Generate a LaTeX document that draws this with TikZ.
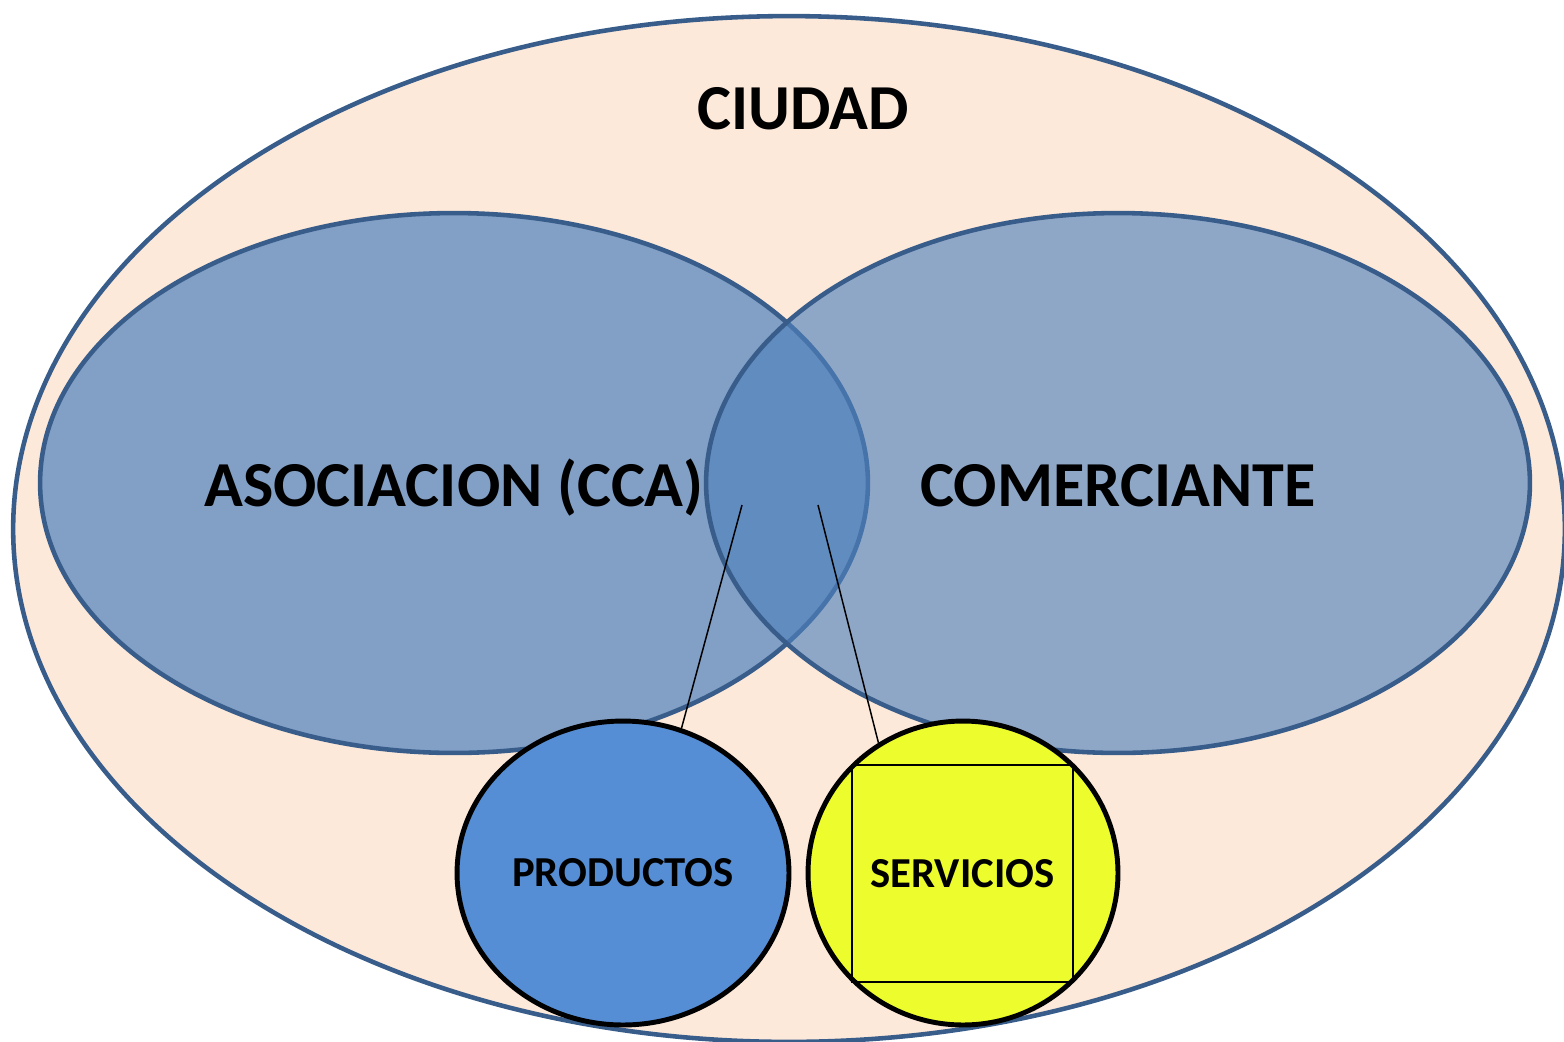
\documentclass[tikz,border=0pt]{standalone}
\usepackage{fontspec}
\setmainfont{Carlito}
\usetikzlibrary{shapes.geometric}

\definecolor{cityfill}{HTML}{FDE9D9}
\definecolor{cityline}{HTML}{385D8A}
\definecolor{setblue}{HTML}{4F81BD}
\definecolor{prodblue}{HTML}{558ED5}
\definecolor{servyellow}{HTML}{ECFC2C}

\begin{document}
\begin{tikzpicture}[
  x=0.02cm, y=-0.02cm,
  bigtext/.style={font=\bfseries\fontsize{36.5}{42}\selectfont,
    text height=27pt, text depth=0pt},
  smalltext/.style={font=\bfseries\fontsize{24.3}{29}\selectfont,
    text height=15.6pt, text depth=0pt},
  setshape/.style={ellipse, draw=cityline, line width=2.6pt, inner sep=0pt,
    fill=setblue, text opacity=1, minimum height=10.8cm, bigtext},
  kindshape/.style={ellipse, draw=black, line width=2.8pt, inner sep=0pt,
    minimum height=6.08cm, smalltext},
  link/.style={line width=0.85pt},
]
\useasboundingbox (0,0) rectangle (1564,1041);
\clip (0,0) rectangle (1564,1041);

% city
\node[ellipse, draw=cityline, line width=2.6pt, fill=cityfill, inner sep=0pt,
  minimum width=31.04cm, minimum height=20.52cm] (ciudad) at (789,529) {};
\node[bigtext] (ciudadtxt) at (803,106) {CIUDAD};

% the two sets
\node[setshape, fill opacity=0.7, minimum width=16.56cm] (asoc) at (454,483)
  {ASOCIACION (CCA)};
\node[setshape, fill opacity=0.63, minimum width=16.48cm] (comer) at (1118,483)
  {COMERCIANTE};

% products and services
\node[kindshape, fill=prodblue, minimum width=6.64cm] (prod) at (623,873)
  {PRODUCTOS};
\node[kindshape, fill=servyellow, minimum width=6.2cm] (serv) at (963,873) {};
\node[rectangle, draw=black, line width=1.1pt, inner sep=0pt,
  minimum width=4.42cm, minimum height=4.34cm, smalltext] (servbox)
  at (962.5,873.5) {SERVICIOS};

% links from the overlap
\coordinate (asocend) at (742,505);
\coordinate (comerend) at (818,505);
\draw[link] (asocend) -- (prod.68);
\draw[link] (comerend) -- (serv.123);
\end{tikzpicture}
\end{document}
